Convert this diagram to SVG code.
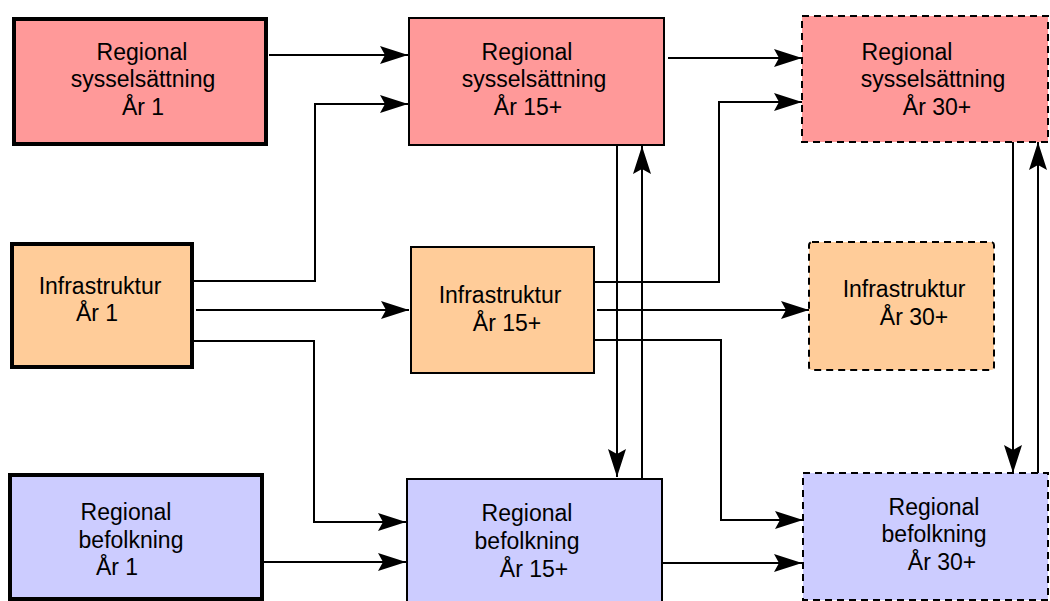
<svg xmlns="http://www.w3.org/2000/svg" width="1050" height="601" viewBox="0 0 1050 601">
<defs>
<marker id="ah" markerUnits="userSpaceOnUse" viewBox="0 0 28 18" refX="28" refY="9" markerWidth="28" markerHeight="18" orient="auto">
<path d="M0,0 L28,9 L0,18 L5,9 Z" fill="#000"/>
</marker>
<style>
text{font-family:"Liberation Sans",Arial,sans-serif;font-size:23px;fill:#000;text-anchor:middle}
.thick{stroke:#000;stroke-width:4}
.solid{stroke:#000;stroke-width:2}
.dash{stroke:#000;stroke-width:2;stroke-dasharray:7,5}
.emp{fill:#FF9999}
.inf{fill:#FFCC99}
.pop{fill:#CCCCFF}
.c{fill:none;stroke:#000;stroke-width:2}
.a{marker-end:url(#ah)}
</style>
</defs>
<rect width="1050" height="601" fill="#fff"/>
<g id="connectors">
<path class="c a" d="M269,55 H408"/>
<path class="c a" d="M192,281 H315 V104 H408"/>
<path class="c a" d="M196,310 H409"/>
<path class="c a" d="M192,341 H314 V522 H406"/>
<path class="c a" d="M264,562 H406"/>
<path class="c a" d="M668,58 H802"/>
<path class="c a" d="M595,282 H719 V102 H802"/>
<path class="c a" d="M597,310 H809"/>
<path class="c a" d="M595,340 H721 V520 H803"/>
<path class="c a" d="M662,563 H802"/>
<path class="c a" d="M617,145 V477"/>
<path class="c a" d="M642,479 V146"/>
<path class="c a" d="M1013,142 V473"/>
<path class="c a" d="M1038,473 V142"/>
</g>
<g id="emp1">
<rect class="emp thick" x="14" y="19" width="252" height="125"/>
<text x="142" y="60">Regional</text>
<text x="143" y="87">sysselsättning</text>
<text x="143" y="115">År 1</text>
</g>
<g id="emp15">
<rect class="emp solid" x="409" y="18" width="255" height="127"/>
<text x="527" y="60">Regional</text>
<text x="534" y="87">sysselsättning</text>
<text x="528" y="115">År 15+</text>
</g>
<g id="emp30">
<rect class="emp dash" x="802" y="16" width="246" height="126"/>
<text x="907" y="60">Regional</text>
<text x="933" y="87">sysselsättning</text>
<text x="937" y="115">År 30+</text>
</g>
<g id="inf1">
<rect class="inf thick" x="12" y="244" width="180" height="123"/>
<text x="100" y="294">Infrastruktur</text>
<text x="97" y="321">År 1</text>
</g>
<g id="inf15">
<rect class="inf solid" x="411" y="247" width="183" height="126"/>
<text x="500" y="303">Infrastruktur</text>
<text x="507" y="331">År 15+</text>
</g>
<g id="inf30">
<rect class="inf dash" x="809" y="242" width="185" height="128" rx="3"/>
<text x="904" y="297">Infrastruktur</text>
<text x="914" y="325">År 30+</text>
</g>
<g id="pop1">
<rect class="pop thick" x="10" y="475" width="252" height="124"/>
<text x="126" y="520">Regional</text>
<text x="131" y="548">befolkning</text>
<text x="117" y="575">År 1</text>
</g>
<g id="pop15">
<rect class="pop solid" x="407" y="479" width="255" height="130"/>
<text x="527" y="521">Regional</text>
<text x="527" y="549">befolkning</text>
<text x="534" y="577">År 15+</text>
</g>
<g id="pop30">
<rect class="pop dash" x="803" y="473" width="245" height="127"/>
<text x="934" y="515">Regional</text>
<text x="934" y="542">befolkning</text>
<text x="942" y="570">År 30+</text>
</g>
</svg>
